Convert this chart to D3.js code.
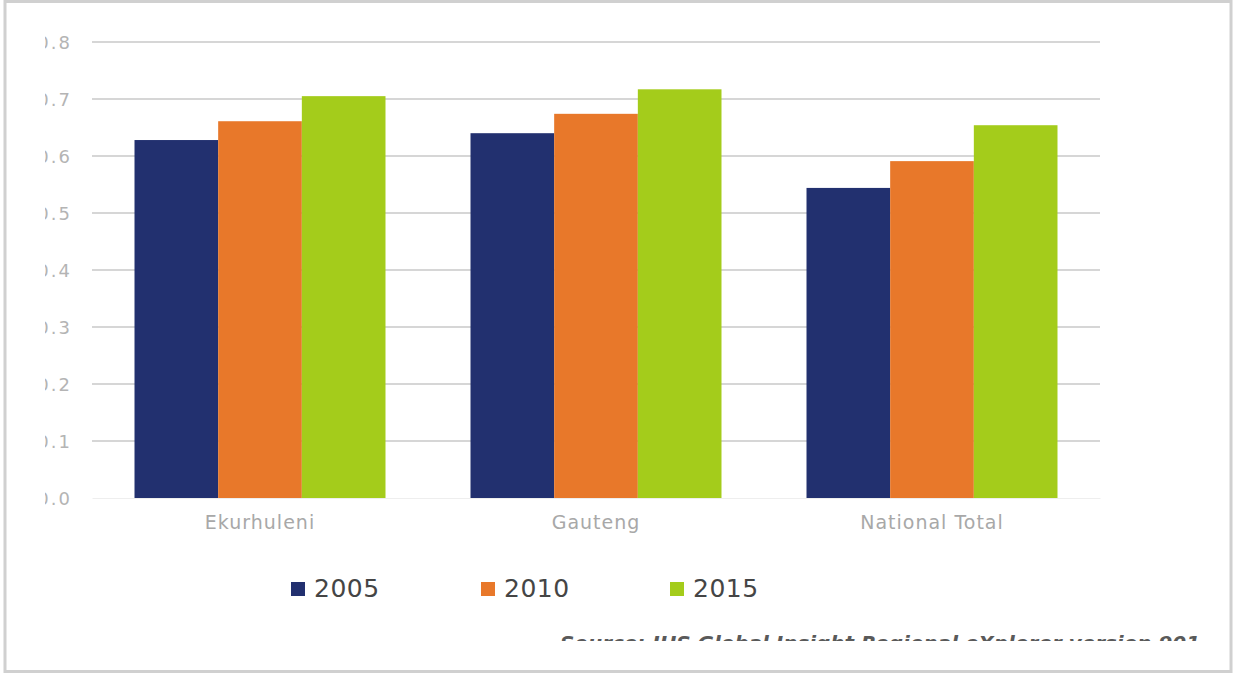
<!DOCTYPE html>
<html><head><meta charset="utf-8">
<script src="https://cdn.jsdelivr.net/npm/d3@7"></script>
<style>body{margin:0;background:#fff;}svg{display:block;}</style>
</head><body>
<svg id="chart" width="1234" height="676"></svg>
<script>
const categories = ["Ekurhuleni", "Gauteng", "National Total"];
const seriesNames = ["2005", "2010", "2015"];
const values2005 = [0.628, 0.640, 0.544];
const values2010 = [0.661, 0.674, 0.591];
const values2015 = [0.705, 0.717, 0.654];
const yTicks = [0, 0.1, 0.2, 0.3, 0.4, 0.5, 0.6, 0.7, 0.8];
const colors = ["#22306f", "#e8782a", "#a4cc1b"];
const sourceText = "Source: IHS Global Insight Regional eXplorer version 901";

const series = [values2005, values2010, values2015];
const svg = d3.select("#chart");
const font = "'DejaVu Sans', Verdana, sans-serif";

// frame
svg.append("rect").attr("x", 5).attr("y", 1.5).attr("width", 1226).attr("height", 670)
  .attr("fill", "#fff").attr("stroke", "#d0d0d0").attr("stroke-width", 3);

const x0 = d3.scaleBand().domain(categories).range([92, 1100]).paddingInner(0.253).paddingOuter(0.1265);
const x1 = d3.scaleBand().domain(seriesNames).range([0, x0.bandwidth()]);
const y = d3.scaleLinear().domain([0, 0.8]).range([498, 42]);

const defs = svg.append("defs");
defs.append("clipPath").attr("id", "yclip").append("rect").attr("x", 45).attr("y", 0).attr("width", 60).attr("height", 676);
defs.append("clipPath").attr("id", "srcclip").append("rect").attr("x", 0).attr("y", 0).attr("width", 1234).attr("height", 641);

// grid
svg.append("g").selectAll("line").data(yTicks.filter(d => d > 0)).join("line")
  .attr("x1", 92).attr("x2", 1100).attr("y1", d => y(d)).attr("y2", d => y(d))
  .attr("stroke", "#c8c8c8").attr("stroke-width", 1.5);

// y axis labels (leading digit cut off by the screenshot crop)
const yAxis = d3.axisLeft(y).tickValues(yTicks).tickFormat(d3.format(".1f")).tickSize(0).tickPadding(0);
const yWrap = svg.append("g").attr("clip-path", "url(#yclip)");
const ya = yWrap.append("g").attr("transform", "translate(72,0)").call(yAxis);
ya.select(".domain").remove();
ya.selectAll("text").attr("font-family", font).attr("font-size", 18).attr("letter-spacing", "2px")
  .attr("fill", "#b4b4b4").attr("dy", "0.35em");

// bars
const g = svg.append("g");
categories.forEach((c, i) => {
  seriesNames.forEach((s, j) => {
    g.append("rect")
      .attr("x", x0(c) + x1(s)).attr("width", x1.bandwidth())
      .attr("y", y(series[j][i])).attr("height", y(0) - y(series[j][i]))
      .attr("fill", colors[j]);
  });
});

// x axis
const xAxis = d3.axisBottom(x0).tickSize(0).tickPadding(0);
const xa = svg.append("g").attr("transform", "translate(0,498)").call(xAxis);
xa.select(".domain").attr("stroke", "#eeeeee");
xa.selectAll("text").attr("font-family", font).attr("font-size", 19).attr("letter-spacing", "1px")
  .attr("fill", "#a8a8a8").attr("y", 0).attr("dy", "1.65em");

// legend
const legendX = [291, 481, 670];
const lg = svg.append("g");
seriesNames.forEach((s, j) => {
  lg.append("rect").attr("x", legendX[j]).attr("y", 582).attr("width", 14).attr("height", 14).attr("fill", colors[j]);
  lg.append("text").attr("x", legendX[j] + 23).attr("y", 597).text(s)
    .attr("font-family", font).attr("font-size", 25).attr("letter-spacing", "0.5px").attr("fill", "#454545");
});

// source (clipped at bottom)
svg.append("text").attr("x", 560).attr("y", 650).text(sourceText)
  .attr("clip-path", "url(#srcclip)")
  .attr("font-family", font).attr("font-size", 20).attr("font-style", "italic").attr("font-weight", "bold")
  .attr("fill", "#5a5a5a").attr("textLength", 640).attr("lengthAdjust", "spacingAndGlyphs");
</script>
</body></html>
